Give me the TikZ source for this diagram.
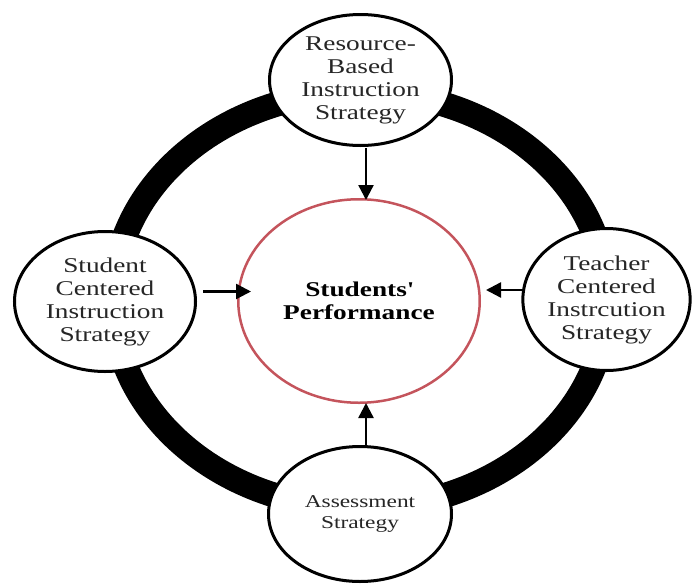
\documentclass[tikz,border=0pt]{standalone}
\usepackage{fontspec}
\setmainfont{Liberation Serif}[FakeStretch=1.3]
\usetikzlibrary{arrows.meta,shapes.geometric}
\definecolor{perfred}{RGB}{196,84,92}
\begin{document}
\begin{tikzpicture}[x=1pt,y=1pt,
  ring/.style={line width=25pt, draw=black},
  bubble/.style={ellipse, draw=black, line width=3pt, fill=white, inner sep=0pt,
    align=center, text=black!85, font=\fontsize{21}{23}\selectfont},
  core/.style={ellipse, draw=perfred, line width=2.5pt, fill=white, inner sep=0pt,
    align=center, text=black, font=\fontsize{21}{23}\selectfont\bfseries},
  arr/.style={line width=2.4pt, -{Triangle[length=15pt,width=15pt]}}]
\useasboundingbox (0,0) rectangle (694,-584);
\draw[ring] (360,-300) ellipse [x radius=247, y radius=208];
\node[bubble, minimum width=182pt, minimum height=131pt] (top) at (360.5,-80)
  {Resource-\\Based\\Instruction\\Strategy};
\node[bubble, minimum width=181pt, minimum height=140pt] (left) at (105,-301.5)
  {Student\\Centered\\Instruction\\Strategy};
\node[bubble, minimum width=166pt, minimum height=142pt] (right) at (606.5,-299.5)
  {Teacher\\Centered\\Instrcution\\Strategy};
\node[bubble, minimum width=183pt, minimum height=135pt, font=\fontsize{18}{21}\selectfont] (bot) at (360,-514)
  {Assessment\\Strategy};
\node[core, minimum width=241.5pt, minimum height=203.5pt] (perf) at (359,-301)
  {Students\textquotesingle\\Performance};
\draw[arr] ([xshift=5.5pt,yshift=-1pt]top.south) -- ([xshift=7pt,yshift=-2pt]perf.north);
\draw[arr] ([xshift=6pt,yshift=-2pt]bot.north) -- ([xshift=7pt,yshift=1pt]perf.south);
\draw[arr] ([xshift=6pt,yshift=10pt]left.east) -- ([xshift=14pt,yshift=9.5pt]perf.west);
\draw[arr] ([xshift=1pt,yshift=9.5pt]right.west) -- ([xshift=5pt,yshift=11pt]perf.east);
\end{tikzpicture}
\end{document}
